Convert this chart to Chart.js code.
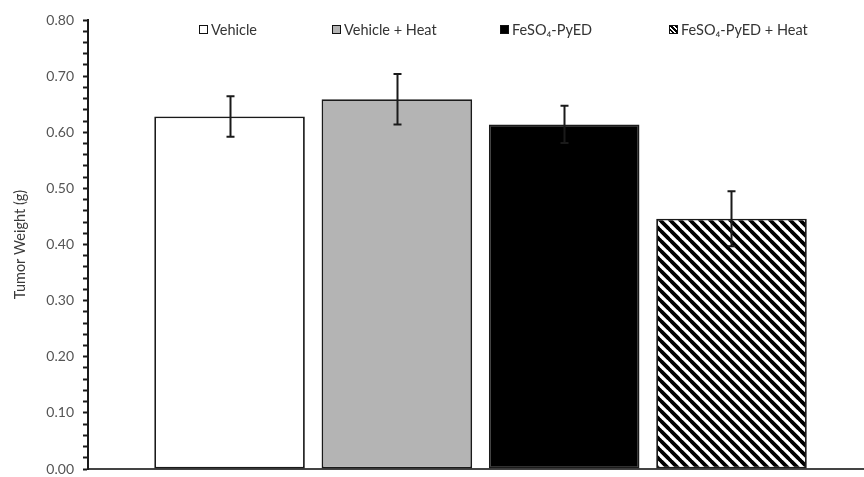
<!DOCTYPE html>
<html>
<head>
<meta charset="utf-8">
<script src="https://cdn.jsdelivr.net/npm/chart.js@4.4.1/dist/chart.umd.min.js"></script>
<style>
  html, body { margin: 0; padding: 0; background: #fff; }
  .wrap { position: relative; width: 864px; height: 477px; }
  canvas { display: block; }
  .legend { position: absolute; top: 0; left: 0; width: 864px; height: 40px; pointer-events: none; }
  .legend__item { position: absolute; top: 21px; display: flex; align-items: center;
    font-family: Lato, 'Open Sans', sans-serif; font-size: 14.5px; color: #333; white-space: nowrap; }
  .legend__box { width: 7px; height: 7px; border: 1.6px solid #111; margin-right: 3px; }
</style>
</head>
<body>
<div class="wrap">
  <canvas id="chart" width="864" height="477"></canvas>
  <div class="legend" id="legend"></div>
</div>
<script>
/* Tumor weight bar chart */
const groups = ['Vehicle', 'Vehicle + Heat', 'FeSO₄-PyED', 'FeSO₄-PyED + Heat'];
const positions = [1, 2, 3, 4];
const weights = [0.628, 0.659, 0.614, 0.446];
const errors = [0.036, 0.045, 0.033, 0.049];
const yTicks = [0.0, 0.1, 0.2, 0.3, 0.4, 0.5, 0.6, 0.7, 0.8];

const legendLeft = [199, 332, 500, 669];

function hatchPattern() {
  const s = 10;
  const c = document.createElement('canvas');
  c.width = s; c.height = s;
  const g = c.getContext('2d');
  g.fillStyle = '#fff';
  g.fillRect(0, 0, s, s);
  g.strokeStyle = '#000';
  g.lineWidth = 3.8;
  g.beginPath();
  g.moveTo(-1, -1); g.lineTo(s + 1, s + 1);
  g.moveTo(-1, s - 1); g.lineTo(1, s + 1);
  g.moveTo(s - 1, -1); g.lineTo(s + 1, 1);
  g.stroke();
  return c;
}

const ctx = document.getElementById('chart').getContext('2d');
const fills = ['#ffffff', '#b4b4b4', '#000000', ctx.createPattern(hatchPattern(), 'repeat')];
const swatches = ['#fff', '#b4b4b4', '#000',
  'repeating-linear-gradient(45deg, #fff 0 1.6px, #000 1.6px 3.2px)'];

const datasets = groups.map((name, i) => ({
  label: name,
  data: [{ x: positions[i], y: weights[i] }],
  backgroundColor: fills[i],
  borderColor: '#1a1a1a',
  borderWidth: 1.8,
  borderSkipped: false,
  grouped: false,
  barPercentage: 0.9,
  categoryPercentage: 1.0,
  errorBar: errors[i],
}));

const errorBars = {
  id: 'errorBars',
  afterDatasetsDraw(chart) {
    const y = chart.scales.y;
    const c = chart.ctx;
    c.save();
    c.strokeStyle = '#1a1a1a';
    c.lineWidth = 2;
    chart.data.datasets.forEach((ds, i) => {
      const bar = chart.getDatasetMeta(i).data[0];
      const v = ds.data[0].y;
      const top = y.getPixelForValue(v + ds.errorBar);
      const bot = y.getPixelForValue(v - ds.errorBar);
      const x = Math.round(bar.x) + 0.5;
      c.beginPath();
      c.moveTo(x, top); c.lineTo(x, bot);
      c.moveTo(x - 4, top); c.lineTo(x + 4, top);
      c.moveTo(x - 4, bot); c.lineTo(x + 4, bot);
      c.stroke();
    });
    c.restore();
  }
};

new Chart(ctx, {
  type: 'bar',
  data: { datasets },
  plugins: [errorBars],
  options: {
    responsive: false,
    animation: false,
    layout: { padding: { top: 20, right: 0, bottom: 8, left: 0 } },
    plugins: {
      legend: { display: false },
      tooltip: { enabled: false },
    },
    scales: {
      x: {
        type: 'linear',
        offset: false,
        min: 0.154,
        max: 4.792,
        afterBuildTicks(scale) {
          scale.ticks = positions.map(v => ({ value: v }));
        },
        afterFit(scale) {
          scale.height = 0;
          scale.paddingLeft = 0;
          scale.paddingRight = 0;
        },
        ticks: { display: false },
        grid: { display: false, drawTicks: false, offset: false },
        border: { display: true, color: '#444', width: 2 },
      },
      y: {
        min: 0,
        max: 0.8,
        afterFit(scale) {
          scale.width = 88;
          scale.paddingTop = 0;
          scale.paddingBottom = 0;
        },
        afterBuildTicks(scale) {
          const out = [];
          for (let k = 0; k <= 40; k++) out.push({ value: k * 0.02 });
          scale.ticks = out;
        },
        ticks: {
          autoSkip: false,
          padding: 9,
          color: '#555',
          font: { family: "Lato, 'Open Sans', sans-serif", size: 14 },
          callback: v => {
            const m = yTicks.find(t => Math.abs(t - v) < 1e-6);
            return m === undefined ? '' : m.toFixed(2);
          },
        },
        grid: {
          drawOnChartArea: false,
          drawTicks: true,
          tickLength: 5,
          tickColor: '#1a1a1a',
          tickWidth: 2,
        },
        border: { display: true, color: '#1a1a1a', width: 2 },
        title: {
          display: true,
          text: 'Tumor Weight (g)',
          color: '#3a3a3a',
          font: { family: "Lato, 'Open Sans', sans-serif", size: 14.5 },
          padding: { top: 12, bottom: 0 },
        },
      },
    },
  },
});

const legend = document.getElementById('legend');
groups.forEach((name, i) => {
  const item = document.createElement('div');
  item.className = 'legend__item';
  item.style.left = legendLeft[i] + 'px';
  item.innerHTML = `<span class="legend__box" style="background:${swatches[i]}"></span>${name}`;
  legend.appendChild(item);
});
</script>
</body>
</html>
